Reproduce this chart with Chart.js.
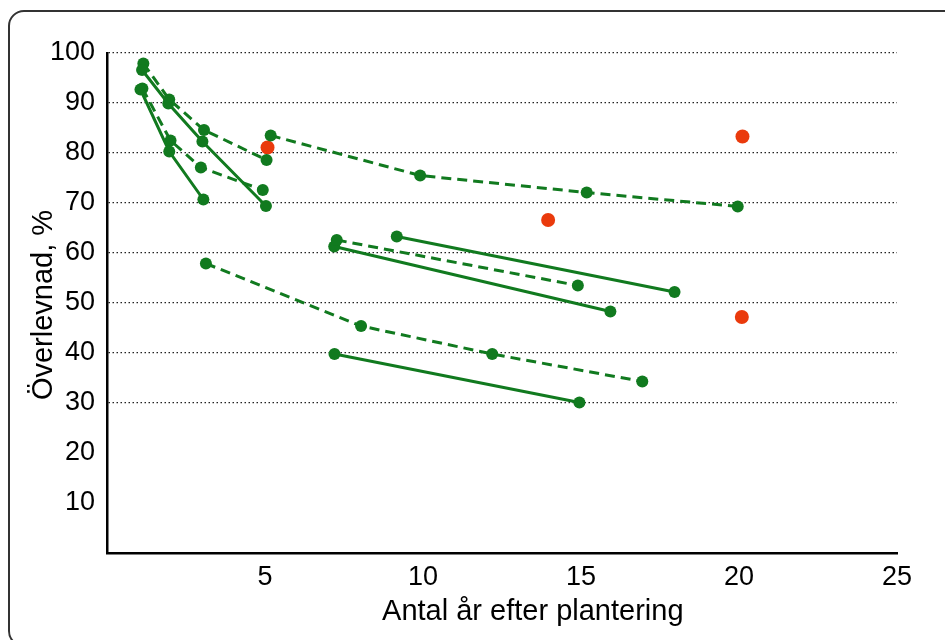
<!DOCTYPE html>
<html>
<head>
<meta charset="utf-8">
<script src="https://cdn.jsdelivr.net/npm/chart.js@4/dist/chart.umd.min.js"></script>
<style>
  html, body { margin: 0; padding: 0; background: #fff; overflow: hidden; }
  #wrap { position: relative; width: 945px; height: 640px; }
  #frame { position: absolute; left: 8px; top: 10px; width: 1000px; height: 637px;
           border: 2px solid #333; border-radius: 16px; box-sizing: border-box; }
  canvas { position: absolute; left: 0; top: 0; }
</style>
</head>
<body>
<div id="wrap">
  <div id="frame"></div>
  <canvas id="c" width="945" height="640"></canvas>
</div>
<script>
// Data (x = years after planting, y = survival %)
const s1x = [1.11, 1.94, 3.02, 5.03];  const s1y = [96.6, 89.9, 82.3, 69.4];   // solid
const s2x = [1.15, 1.97, 3.07, 5.05];  const s2y = [97.9, 90.7, 84.6, 78.6];   // dashed
const s3x = [1.06, 1.97, 3.05];        const s3y = [92.7, 80.3, 70.7];         // solid
const s4x = [1.12, 2.01, 2.97, 4.93];  const s4y = [92.9, 82.5, 77.1, 72.6];   // dashed
const s5x = [5.18, 9.91, 15.18, 19.96]; const s5y = [83.5, 75.5, 72.1, 69.3];  // dashed
const s6x = [9.17, 17.96];             const s6y = [63.3, 52.2];               // solid
const s7x = [7.27, 14.9];              const s7y = [62.6, 53.5];               // dashed
const s8x = [7.19, 15.93];             const s8y = [61.3, 48.3];               // solid
const s9x = [3.13, 8.04, 12.19, 16.94]; const s9y = [57.9, 45.4, 39.8, 34.3];  // dashed
const s10x = [7.2, 14.95];             const s10y = [39.8, 30.1];              // solid
const redX = [5.08, 13.96, 20.11, 20.09];
const redY = [81.1, 66.6, 83.3, 47.2];

const xTicks = [5, 10, 15, 20, 25];
const yTicks = [10, 20, 30, 40, 50, 60, 70, 80, 90, 100];
const xTitle = 'Antal år efter plantering';
const yTitle = 'Överlevnad, %';

const GREEN = '#117a1f';
const RED = '#ea3a0c';
const FONT = '"Liberation Sans", Arial, sans-serif';

function pts(xs, ys) { return xs.map((x, i) => ({x: x, y: ys[i]})); }

function lineSet(xs, ys, dashed) {
  return {
    data: pts(xs, ys),
    showLine: true,
    borderColor: GREEN,
    backgroundColor: GREEN,
    borderWidth: 3,
    borderDash: dashed ? [10, 6] : [],
    pointRadius: 6,
    pointHoverRadius: 6,
    pointBackgroundColor: GREEN,
    pointBorderWidth: 0,
    tension: 0
  };
}

const datasets = [
  lineSet(s1x, s1y, false),
  lineSet(s2x, s2y, true),
  lineSet(s3x, s3y, false),
  lineSet(s4x, s4y, true),
  lineSet(s5x, s5y, true),
  lineSet(s6x, s6y, false),
  lineSet(s7x, s7y, true),
  lineSet(s8x, s8y, false),
  lineSet(s9x, s9y, true),
  lineSet(s10x, s10y, false),
  {
    data: pts(redX, redY),
    showLine: false,
    pointRadius: 7,
    pointHoverRadius: 7,
    pointBackgroundColor: RED,
    pointBorderWidth: 0,
    backgroundColor: RED,
    borderColor: RED
  }
];

const titlesPlugin = {
  id: 'axisTitles',
  afterDraw(chart) {
    const ctx = chart.ctx;
    const a = chart.chartArea;
    ctx.save();
    ctx.fillStyle = '#000';
    ctx.font = '29px ' + FONT;
    ctx.textAlign = 'center';
    ctx.textBaseline = 'alphabetic';
    // x title
    ctx.fillText(xTitle, a.left + (a.right - a.left) * 0.539, a.bottom + 67);
    // y title
    ctx.translate(a.left - 55, (a.top + a.bottom) / 2 + 2);
    ctx.rotate(-Math.PI / 2);
    ctx.fillText(yTitle, 0, 0);
    ctx.restore();
  }
};

new Chart(document.getElementById('c'), {
  type: 'scatter',
  data: { datasets: datasets },
  options: {
    responsive: false,
    animation: false,
    events: [],
    layout: { padding: { left: 0, top: 53, right: 48, bottom: 0 } },
    plugins: { legend: { display: false }, tooltip: { enabled: false } },
    scales: {
      x: {
        type: 'linear',
        min: 0, max: 25,
        afterFit: (s) => { s.height = 87; },
        afterBuildTicks: (s) => { s.ticks = [0].concat(xTicks).map(v => ({value: v})); },
        ticks: {
          callback: (v) => (xTicks.includes(v) ? String(v) : ''),
          color: '#000',
          font: { family: FONT, size: 27 },
          padding: 8,
          maxRotation: 0,
          autoSkip: false
        },
        grid: { display: false, drawTicks: false },
        border: { display: true, color: '#000', width: 2.5 }
      },
      y: {
        type: 'linear',
        min: 0, max: 100,
        afterFit: (s) => { s.width = 107; },
        afterBuildTicks: (s) => { s.ticks = [0].concat(yTicks).map(v => ({value: v})); },
        ticks: {
          callback: (v) => (yTicks.includes(v) ? String(v) : ''),
          color: '#000',
          font: { family: FONT, size: 27 },
          padding: 12,
          autoSkip: false
        },
        grid: {
          drawTicks: false,
          lineWidth: 1.3,
          color: (ctx) => (ctx.tick && ctx.tick.value >= 30 ? '#222' : 'rgba(0,0,0,0)'),
          borderDash: [1.5, 2.5]
        },
        border: { display: true, color: '#000', width: 2.5, dash: [1.5, 2.5] }
      }
    }
  },
  plugins: [titlesPlugin]
});
</script>
</body>
</html>
